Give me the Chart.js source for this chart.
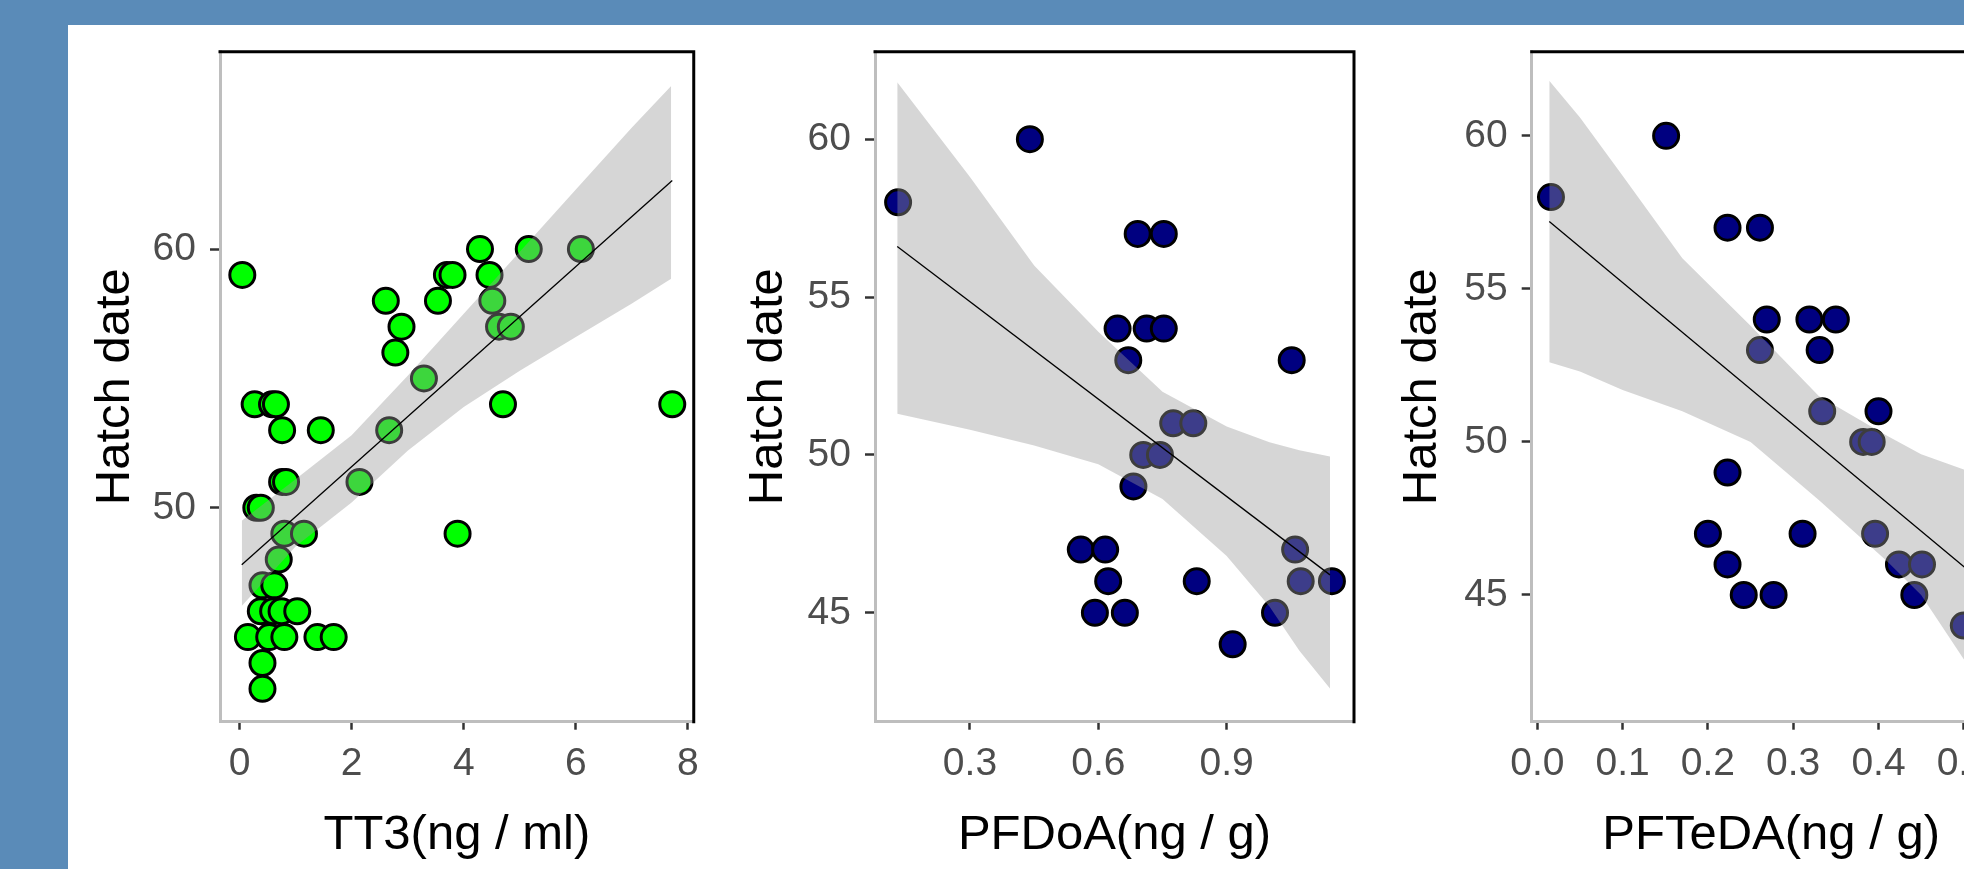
<!DOCTYPE html>
<html>
<head>
<meta charset="utf-8">
<script src="https://cdn.jsdelivr.net/npm/chart.js@4.4.1/dist/chart.umd.min.js"></script>
<style>
  html, body { margin: 0; padding: 0; overflow: hidden; }
  body { width: 1964px; height: 869px; background: #5a8bb8; position: relative; }
  #sheet { position: absolute; left: 68px; top: 25px; right: 0; bottom: 0; background: #fff; }
  canvas { position: absolute; top: 0; }
</style>
</head>
<body>
<div id="sheet"></div>
<canvas id="c1" width="640" height="869" style="left:70px"></canvas>
<canvas id="c2" width="660" height="869" style="left:710px"></canvas>
<canvas id="c3" width="660" height="869" style="left:1370px"></canvas>
<script>
// panel 1 - TT3
const tt3X = [4.29, 5.16, 6.09, 0.05, 3.70, 3.80, 4.46, 2.61, 3.54, 4.51, 2.89, 4.63, 4.84, 2.78, 3.29,
  0.27, 0.58, 0.65, 4.70, 7.72, 0.76, 1.45, 2.67, 0.76, 0.83, 2.14, 0.30, 0.38, 0.80, 1.15, 3.89, 0.70,
  0.41, 0.62, 0.38, 0.60, 0.75, 1.03, 0.15, 0.53, 0.80, 1.39, 1.68, 0.41, 0.41];
const tt3Hatch = [60, 60, 60, 59, 59, 59, 59, 58, 58, 58, 57, 57, 57, 56, 55,
  54, 54, 54, 54, 54, 53, 53, 53, 51, 51, 51, 50, 50, 49, 49, 49, 48,
  47, 47, 46, 46, 46, 46, 45, 45, 45, 45, 45, 44, 43];
const tt3BandX = [0.04, 1, 2, 3, 4, 5, 6, 7, 7.7];
const tt3Upper = [49.5, 51.1, 52.8, 55.1, 57.5, 59.9, 62.3, 64.7, 66.3];
const tt3Lower = [46.2, 48.5, 50.2, 52.2, 53.9, 55.3, 56.6, 57.9, 58.85];
const tt3FitX = [0.04, 7.72];
const tt3FitY = [47.8, 62.65];
const tt3TicksX = [0, 2, 4, 6, 8];
const tt3TicksY = [50, 60];

// panel 2 - PFDoA
const pfdoaX = [0.132, 0.44, 0.692, 0.753, 0.645, 0.713, 0.753, 0.67, 1.052, 0.775, 0.822, 0.705, 0.744,
  0.682, 0.559, 0.616, 1.06, 0.623, 0.83, 1.073, 1.146, 0.592, 0.662, 1.013, 0.914];
const pfdoaHatch = [58, 60, 57, 57, 54, 54, 54, 53, 53, 51, 51, 50, 50,
  49, 47, 47, 47, 46, 46, 46, 46, 45, 45, 45, 44];
const pfdoaBandX = [0.13, 0.3, 0.45, 0.6, 0.75, 0.9, 1.0, 1.07, 1.1415];
const pfdoaUpper = [61.8, 58.8, 56.0, 53.9, 52.0, 50.9, 50.4, 50.15, 49.95];
const pfdoaLower = [51.3, 50.8, 50.3, 49.7, 48.6, 46.8, 45.2, 43.8, 42.6];
const pfdoaFitX = [0.13, 1.1415];
const pfdoaFitY = [56.6, 46.2];
const pfdoaTicksX = [0.3, 0.6, 0.9];
const pfdoaTicksY = [45, 50, 55, 60];

// panel 3 - PFTeDA (right part is cut off in the picture)
const pftedaX = [0.016, 0.151, 0.223, 0.261, 0.269, 0.319, 0.35, 0.261, 0.331, 0.334, 0.4, 0.382, 0.392,
  0.223, 0.2, 0.311, 0.396, 0.223, 0.424, 0.451, 0.242, 0.277, 0.442, 0.5];
const pftedaHatch = [58, 60, 57, 57, 54, 54, 54, 53, 53, 51, 51, 50, 50,
  49, 47, 47, 47, 46, 46, 46, 45, 45, 45, 44];
const pftedaBandX = [0.014, 0.05, 0.1, 0.17, 0.25, 0.33, 0.41, 0.45, 0.5, 0.54];
const pftedaUpper = [61.8, 60.6, 58.7, 56.0, 53.8, 51.5, 50.2, 49.6, 49.1, 48.6];
const pftedaLower = [52.6, 52.3, 51.7, 51.0, 50.0, 48.1, 46.1, 45.0, 42.9, 41.3];
const pftedaFitX = [0.014, 0.54];
const pftedaFitY = [57.2, 45.0];
const pftedaTicksX = [0.0, 0.1, 0.2, 0.3, 0.4, 0.5];
const pftedaTicksY = [45, 50, 55, 60];

const FONT = "'Liberation Sans Narrow', 'Arial Narrow', 'Liberation Sans', sans-serif";

const pairs = (xs, ys) => xs.map((x, i) => ({ x: x, y: ys[i] }));

// black top + right edges of the panel box
const frame = {
    id: 'frame',
    afterDraw(chart) {
        const { ctx, chartArea: a } = chart;
        ctx.save();
        ctx.strokeStyle = '#000';
        ctx.lineWidth = 3;
        ctx.beginPath();
        ctx.moveTo(a.left - 1.5, a.top);
        ctx.lineTo(a.right, a.top);
        ctx.lineTo(a.right, a.bottom + 1.5);
        ctx.stroke();
        ctx.restore();
    }
};

function panel(id, p) {
    new Chart(document.getElementById(id), {
        type: 'scatter',
        data: {
            datasets: [{
                data: pairs(p.x, p.y),
                pointRadius: 12.5,
                pointBorderWidth: 3,
                pointBackgroundColor: p.color,
                pointBorderColor: '#000',
                order: 3
            }, {
                data: pairs(p.bandX, p.lower),
                showLine: true,
                borderColor: 'rgba(0,0,0,0)',
                borderWidth: 1,
                pointRadius: 0,
                fill: false,
                order: 2
            }, {
                data: pairs(p.bandX, p.upper),
                showLine: true,
                borderColor: 'rgba(0,0,0,0)',
                borderWidth: 1,
                pointRadius: 0,
                fill: '-1',
                backgroundColor: 'rgba(153,153,153,0.4)',
                order: 2
            }, {
                data: pairs(p.fitX, p.fitY),
                showLine: true,
                borderColor: '#000',
                borderWidth: 1.3,
                pointRadius: 0,
                order: 1
            }]
        },
        options: {
            responsive: false,
            animation: false,
            layout: { padding: { top: 51.7, right: p.padRight, left: 0, bottom: 0 } },
            plugins: { legend: { display: false }, tooltip: { enabled: false } },
            scales: {
                x: {
                    type: 'linear',
                    min: p.xMin,
                    max: p.xMax,
                    afterBuildTicks: s => { s.ticks = p.ticksX.map(v => ({ value: v })); },
                    afterFit: s => { s.height = 147.3; },
                    grid: { drawOnChartArea: false, tickLength: 8, tickWidth: 2.5, tickColor: '#333' },
                    border: { color: '#bebebe', width: 3 },
                    ticks: {
                        padding: 11, color: '#4d4d4d', maxRotation: 0, autoSkip: false,
                        font: { family: FONT, size: 39 },
                        callback: v => p.fmt(v)
                    },
                    title: {
                        display: true, text: p.xTitle, color: '#000',
                        font: { family: FONT, size: 49 }, padding: { top: 0, bottom: 4 }
                    }
                },
                y: {
                    type: 'linear',
                    min: p.yMin,
                    max: p.yMax,
                    afterBuildTicks: s => { s.ticks = p.ticksY.map(v => ({ value: v })); },
                    afterFit: s => { s.width = p.yWidth; },
                    grid: { drawOnChartArea: false, tickLength: 10, tickWidth: 2.5, tickColor: '#333' },
                    border: { color: '#bebebe', width: 3 },
                    ticks: {
                        padding: 14, color: '#4d4d4d', autoSkip: false,
                        font: { family: FONT, size: 39 }
                    },
                    title: {
                        display: true, text: 'Hatch date', color: '#000',
                        font: { family: FONT, size: 49 }, padding: { top: p.yTitlePad, bottom: 0 }
                    }
                }
            }
        },
        plugins: [frame]
    });
}

panel('c1', {
    x: tt3X, y: tt3Hatch, color: '#00ff00',
    bandX: tt3BandX, upper: tt3Upper, lower: tt3Lower, fitX: tt3FitX, fitY: tt3FitY,
    ticksX: tt3TicksX, ticksY: tt3TicksY, fmt: v => String(v),
    xMin: -0.348, xMax: 8.103, yMin: 41.73, yMax: 67.63,
    yWidth: 150, padRight: 12, yTitlePad: 16, xTitle: 'TT3(ng / ml)'
});

panel('c2', {
    x: pfdoaX, y: pfdoaHatch, color: '#000080',
    bandX: pfdoaBandX, upper: pfdoaUpper, lower: pfdoaLower, fitX: pfdoaFitX, fitY: pfdoaFitY,
    ticksX: pfdoaTicksX, ticksY: pfdoaTicksY, fmt: v => v.toFixed(1),
    xMin: 0.078, xMax: 1.1976, yMin: 41.55, yMax: 62.77,
    yWidth: 165, padRight: 16, yTitlePad: 29, xTitle: 'PFDoA(ng / g)'
});

panel('c3', {
    x: pftedaX, y: pftedaHatch, color: '#000080',
    bandX: pftedaBandX, upper: pftedaUpper, lower: pftedaLower, fitX: pftedaFitX, fitY: pftedaFitY,
    ticksX: pftedaTicksX, ticksY: pftedaTicksY, fmt: v => v.toFixed(1),
    xMin: -0.0066, xMax: 0.555, yMin: 40.86, yMax: 62.75,
    yWidth: 161.7, padRight: 19.3, yTitlePad: 23, xTitle: 'PFTeDA(ng / g)'
});
</script>
</body>
</html>
